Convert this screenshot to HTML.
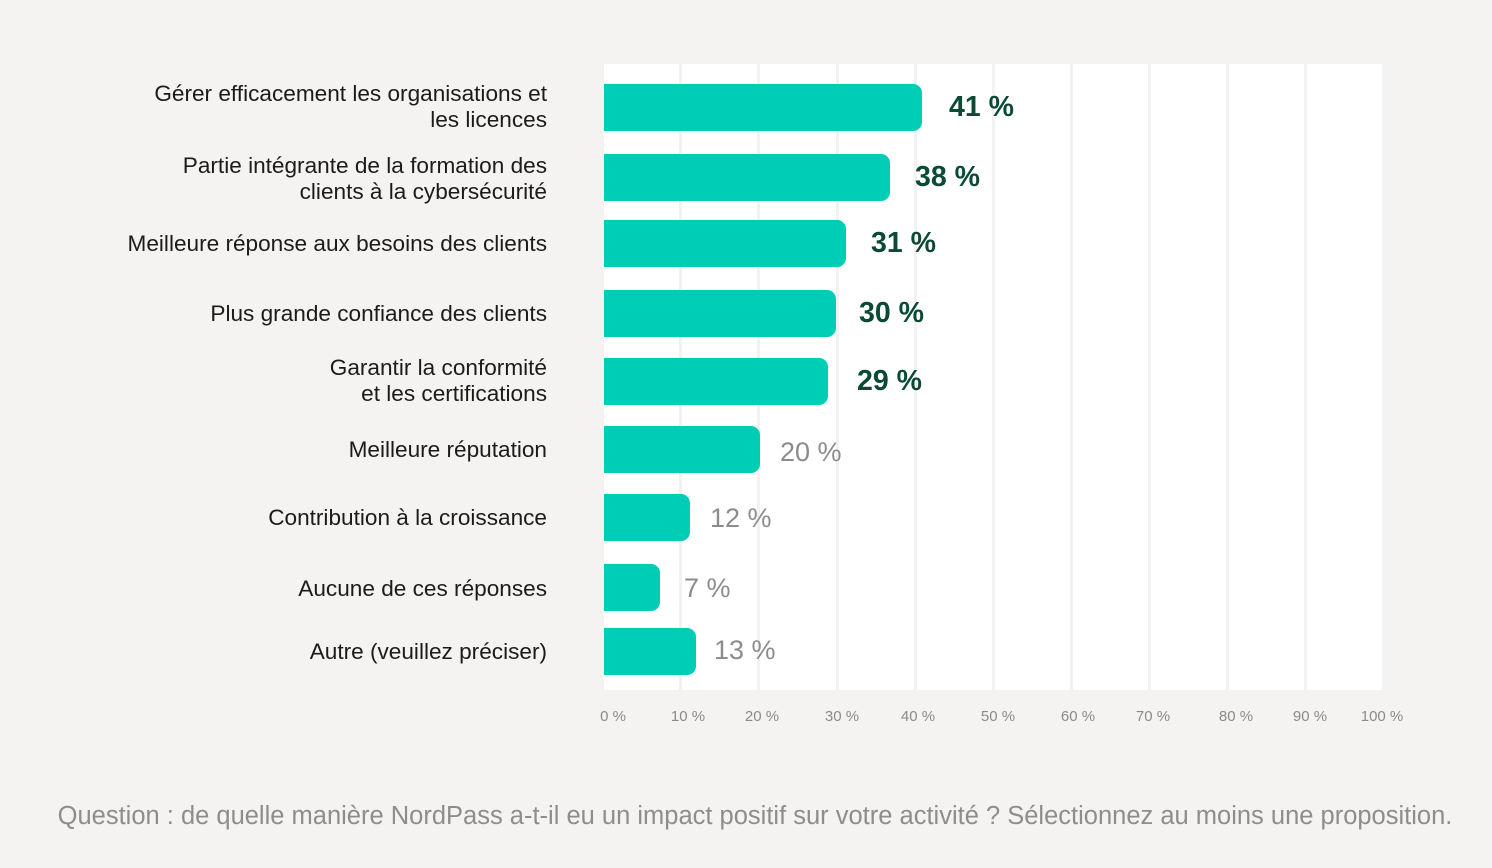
<!DOCTYPE html>
<html><head><meta charset="utf-8"><style>
body{margin:0;width:1492px;height:868px;background:#f5f3f1;font-family:"Liberation Sans",sans-serif;position:relative;overflow:hidden}
.plot{position:absolute;left:604px;top:64px;width:778px;height:626px;background:#fff}
.g{position:absolute;top:0;width:3px;height:626px;background:#f3f2f0}
.bar{position:absolute;left:604px;height:47px;background:#00cdb5;border-radius:0 9px 9px 0}
.v{position:absolute;font-size:29px;line-height:47px;white-space:nowrap}
.d{color:#0b4a35;font-weight:bold;font-size:28.5px}
.l{color:#8c8c8c;font-size:27px}
.c{position:absolute;right:945px;text-align:right;font-size:22.6px;line-height:26px;color:#1b1b1b;white-space:nowrap}
.t{position:absolute;top:708px;font-size:15px;color:#8a8a8a;transform:translateX(-50%)}
.f{position:absolute;top:802px;left:0;width:1510px;text-align:center;font-size:25.5px;color:#8d8d8d}
</style></head><body>
<div class="plot">
<div class="g" style="left:75px"></div><div class="g" style="left:153px"></div><div class="g" style="left:232px"></div><div class="g" style="left:310px"></div><div class="g" style="left:388px"></div><div class="g" style="left:466px"></div><div class="g" style="left:544px"></div><div class="g" style="left:622px"></div><div class="g" style="left:700px"></div>
</div>
<div class="bar" style="top:84px;width:318px"></div><div class="v d" style="top:84px;left:949px">41 %</div>
<div class="bar" style="top:154px;width:286px"></div><div class="v d" style="top:154px;left:915px">38 %</div>
<div class="bar" style="top:220px;width:242px"></div><div class="v d" style="top:220px;left:871px">31 %</div>
<div class="bar" style="top:290px;width:232px"></div><div class="v d" style="top:290px;left:859px">30 %</div>
<div class="bar" style="top:358px;width:224px"></div><div class="v d" style="top:358px;left:857px">29 %</div>
<div class="bar" style="top:426px;width:156px"></div><div class="v l" style="top:429px;left:780px">20 %</div>
<div class="bar" style="top:494px;width:86px"></div><div class="v l" style="top:495px;left:710px">12 %</div>
<div class="bar" style="top:564px;width:56px"></div><div class="v l" style="top:565px;left:684px">7 %</div>
<div class="bar" style="top:628px;width:92px"></div><div class="v l" style="top:627px;left:714px">13 %</div>
<div class="c" style="top:81px">Gérer efficacement les organisations et<br>les licences</div>
<div class="c" style="top:153px">Partie intégrante de la formation des<br>clients à la cybersécurité</div>
<div class="c" style="top:231px">Meilleure réponse aux besoins des clients</div>
<div class="c" style="top:301px">Plus grande confiance des clients</div>
<div class="c" style="top:355px">Garantir la conformité<br>et les certifications</div>
<div class="c" style="top:437px">Meilleure réputation</div>
<div class="c" style="top:505px">Contribution à la croissance</div>
<div class="c" style="top:576px">Aucune de ces réponses</div>
<div class="c" style="top:639px">Autre (veuillez préciser)</div>
<div class="t" style="left:613px">0 %</div><div class="t" style="left:688px">10 %</div><div class="t" style="left:762px">20 %</div><div class="t" style="left:842px">30 %</div><div class="t" style="left:918px">40 %</div><div class="t" style="left:998px">50 %</div><div class="t" style="left:1078px">60 %</div><div class="t" style="left:1153px">70 %</div><div class="t" style="left:1236px">80 %</div><div class="t" style="left:1310px">90 %</div><div class="t" style="left:1382px">100 %</div>
<div class="f">Question : de quelle manière NordPass a-t-il eu un impact positif sur votre activité ? Sélectionnez au moins une proposition.</div>
</body></html>
